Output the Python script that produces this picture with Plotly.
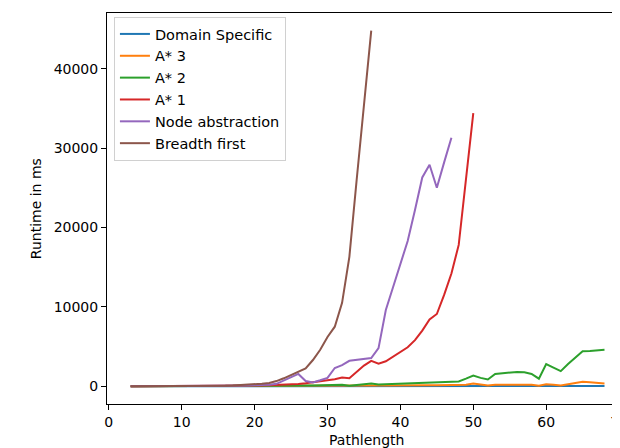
import plotly.graph_objects as go

x_all = list(range(3, 69))

domain_specific = [0, 0, 0, 0, 0, 0, 0, 0, 0, 0, 0, 0, 0, 0, 0, 0, 0, 0, 0, 0,
                   5, 5, 5, 5, 5, 5, 5, 5, 5, 10, 10, 10, 10, 10, 10, 10, 10, 10, 10, 15,
                   15, 15, 15, 15, 15, 20, 20, 20, 20, 20, 20, 20, 20, 20, 20, 25,
                   25, 25, 25, 25, 30, 30, 30, 30, 30, 30]

a_star_3 = [0, 0, 0, 0, 0, 0, 0, 0, 0, 0, 0, 0, 5, 5, 5, 10, 10, 10, 15, 15,
            20, 20, 25, 25, 30, 30, 35, 40, 50, 60, 70, 80, 70, 80, 90, 100, 90, 100, 110, 110,
            120, 120, 130, 130, 140, 150, 200, 330, 200, 100, 180, 200, 220, 230, 220, 200,
            50, 250, 180, 100, 250, 400, 550, 500, 420, 350]

a_star_2 = [0, 0, 0, 0, 0, 0, 0, 0, 5, 5, 5, 10, 10, 10, 15, 15, 20, 20, 25, 30,
            40, 50, 60, 70, 80, 100, 120, 150, 100, 200, 60, 150, 250, 350, 220, 250, 280, 330,
            380, 400, 400, 430, 450, 480, 520, 600, 950, 1340, 1050, 850, 1550, 1650, 1700,
            1800, 1750, 1550, 950, 2800, 2350, 1900, 2800, 3600, 4400, 4450, 4500, 4600]

x_a1 = list(range(3, 51))
a_star_1 = [0, 0, 0, 0, 0, 0, 5, 5, 10, 10, 15, 20, 25, 30, 40, 50, 60, 80,
            100, 120, 150, 180, 220, 280, 380, 480, 600, 750, 880, 1100, 1000, 1800, 2600,
            3200, 2850, 3150, 3700, 4300, 4900, 5800, 7000, 8400, 9100, 11500, 14200, 17800,
            26000, 34400]

x_node = list(range(3, 48))
node_abstraction = [0, 0, 0, 0, 0, 5, 5, 10, 10, 15, 20, 25, 30,
                    40, 50, 70, 90, 110, 140, 180, 300, 700, 1100, 1550, 650, 480, 750, 1050,
                    2300, 2650, 3200, 3300, 3400, 3550, 4800, 9600, 12500, 15400, 18300, 22200,
                    26300, 27900, 25000, 28200, 31300]

x_bfs = list(range(3, 37))
breadth_first = [0, 0, 0, 0, 0, 5, 10, 10, 15, 20, 25, 35, 50,
                 70, 100, 140, 190, 250, 320, 420, 650, 1000, 1400, 1900, 2250, 3300, 4600,
                 6200, 7500, 10500, 16300, 26000, 35500, 44800]

names = ["Domain Specific", "A* 3", "A* 2", "A* 1", "Node abstraction", "Breadth first"]
colors = ["#1f77b4", "#ff7f0e", "#2ca02c", "#d62728", "#9467bd", "#8c564b"]
xs = [x_all, x_all, x_all, x_a1, x_node, x_bfs]
ys = [domain_specific, a_star_3, a_star_2, a_star_1, node_abstraction, breadth_first]

x_ticks = [0, 10, 20, 30, 40, 50, 60, 70]
y_ticks = [0, 10000, 20000, 30000, 40000]

fig = go.Figure()
for i, (n, c, xv, yv) in enumerate(zip(names, colors, xs, ys)):
    fig.add_trace(go.Scatter(x=xv, y=yv, mode="lines", name=n,
                             line=dict(color=c, width=2), legendgroup=n))

font = dict(family="DejaVu Sans", size=14, color="black")
legend_font = dict(family="DejaVu Sans", size=14.5, color="black")
# page has an 8px body offset; plot area page box: left 107, top 13, bottom 404
L, T, B = 99, 5, 52
PW, PH = 620 - L, 448 - T - B
fig.update_layout(
    width=620, height=448,
    margin=dict(l=L, r=0, t=T, b=B),
    paper_bgcolor="white", plot_bgcolor="white",
    font=font,
    showlegend=True,
    legend=dict(x=(106 - L) / PW, y=1 - (9 - T) / PH, xanchor="left", yanchor="top",
                bgcolor="white", bordercolor="#d0d0d0", borderwidth=1,
                font=legend_font, traceorder="grouped", tracegroupgap=0),
    xaxis=dict(range=[-0.25, -0.25 + PW / 7.36], tickvals=x_ticks, ticks="outside",
               ticklen=5, tickcolor="black", showline=True, linecolor="black",
               linewidth=1, mirror=True, showgrid=False, zeroline=False,
               ticklabeloverflow="allow"),
    yaxis=dict(range=[-2239, 47019], tickvals=y_ticks, tickformat="d", ticks="outside",
               ticklen=5, tickcolor="black", showline=True, linecolor="black",
               linewidth=1, showgrid=False, zeroline=False),
    annotations=[
        dict(text="Pathlength", xref="paper", yref="paper", x=(361 - L) / PW,
             y=-26 / PH, xanchor="center", yanchor="top", showarrow=False, font=font),
        dict(text="Runtime in ms", xref="paper", yref="paper", x=(27 - L) / PW, y=0.5,
             textangle=-90, xanchor="center", yanchor="middle", showarrow=False, font=font),
    ],
)

fig.write_html("out.html")
